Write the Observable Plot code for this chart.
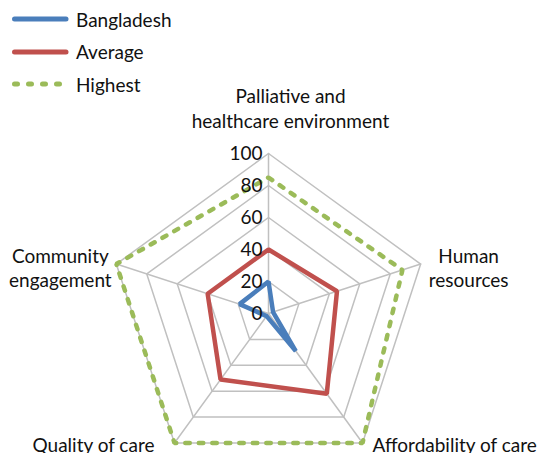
<!DOCTYPE html>
<html>
<head>
<meta charset="utf-8">
<script src="https://cdn.jsdelivr.net/npm/d3@7"></script>
<script src="https://cdn.jsdelivr.net/npm/@observablehq/plot@0.6"></script>
<style>
  html, body { margin: 0; padding: 0; background: #fff; }
  #wrap { position: relative; width: 540px; height: 453px; font-family: Lato, "Open Sans", sans-serif; }
  #legend { position: absolute; left: 10px; top: 3px; font-size: 19px; color: #111; }
  #legend .item { display: flex; align-items: center; height: 32.5px; }
  #legend svg { margin-right: 6px; }
</style>
</head>
<body>
<div id="wrap"><div id="legend"></div></div>
<script>
const categories = ["Palliative and\nhealthcare environment", "Human\nresources", "Affordability of care", "Quality of care", "Community\nengagement"];
const bangladesh = [20, 3, 29, 2, 19];
const average = [40, 45, 62, 51, 40];
const highest = [85, 88, 100, 100, 100];
const ticks = [0, 20, 40, 60, 80, 100];
const seriesNames = ["Bangladesh", "Average", "Highest"];
const seriesColors = ["#4a7ebb", "#c0504d", "#9bbb59"];

const n = categories.length;
const ang = i => (i * 2 * Math.PI) / n;
const pt = (r, i) => ({x: r * Math.sin(ang(i)), y: r * Math.cos(ang(i))});

const seriesData = [bangladesh, average, highest].flatMap((vals, s) =>
  vals.map((v, i) => ({series: seriesNames[s], ...pt(v, i)})));
const rings = ticks.filter(t => t > 0).flatMap(t => categories.map((c, i) => ({ring: t, ...pt(t, i)})));
const spokes = categories.flatMap((c, i) => [{k: i, ...pt(0, i)}, {k: i, ...pt(100, i)}]);
const labelPts = categories.map((c, i) => ({label: c, i, ...pt(100, i)}));
const tickPts = ticks.map(t => ({label: String(t), ...pt(t, 0)}));

const labelStyle = [
  {textAnchor: "middle", lineAnchor: "bottom", dx: 22, dy: -26},
  {textAnchor: "middle", lineAnchor: "middle", dx: 48, dy: 3},
  {textAnchor: "start", lineAnchor: "middle", dx: 10, dy: 1},
  {textAnchor: "end", lineAnchor: "middle", dx: -20, dy: 1},
  {textAnchor: "middle", lineAnchor: "middle", dx: -56, dy: 3}
];

const dashed = {Bangladesh: false, Average: false, Highest: true};

const chart = Plot.plot({
  width: 540,
  height: 453,
  margin: 0,
  x: {domain: [-167.5, 170], range: [0, 540], axis: null},
  y: {domain: [-87.5, 195.625], range: [453, 0], axis: null},
  style: {fontFamily: "Lato, 'Open Sans', sans-serif", fontSize: "19px", color: "#111", background: "transparent"},
  marks: [
    Plot.line(rings, {x: "x", y: "y", z: "ring", curve: "linear-closed", stroke: "#c0c0c0", strokeWidth: 1.5}),
    Plot.line(spokes, {x: "x", y: "y", z: "k", stroke: "#c0c0c0", strokeWidth: 1.5}),
    ...seriesNames.map((s, k) => Plot.line(seriesData.filter(d => d.series === s), {
      x: "x", y: "y", curve: "linear-closed", stroke: seriesColors[k], strokeWidth: 4.5,
      strokeDasharray: dashed[s] ? "4.5,9" : undefined,
      strokeLinecap: dashed[s] ? "round" : "butt",
      strokeLinejoin: "miter"
    })),
    Plot.text(tickPts, {x: "x", y: "y", text: "label", textAnchor: "end", dx: -6, fill: "#111", fontSize: 19}),
    ...labelPts.map((d, i) => Plot.text([d], {x: "x", y: "y", text: "label", fill: "#111", fontSize: 19, lineHeight: 1.3, ...labelStyle[i]}))
  ]
});
chart.style.position = "absolute";
chart.style.left = "0";
chart.style.top = "0";
document.getElementById("wrap").appendChild(chart);

const leg = document.getElementById("legend");
leg.style.zIndex = 2;
seriesNames.forEach((s, k) => {
  const item = document.createElement("div");
  item.className = "item";
  const dash = dashed[s] ? 'stroke-dasharray="3,11" stroke-linecap="round"' : 'stroke-linecap="round"';
  item.innerHTML = `<svg width="60" height="10"><line x1="4.5" y1="5" x2="56" y2="5" stroke="${seriesColors[k]}" stroke-width="5" ${dash}/></svg><span>${s}</span>`;
  leg.appendChild(item);
});
</script>
</body>
</html>
